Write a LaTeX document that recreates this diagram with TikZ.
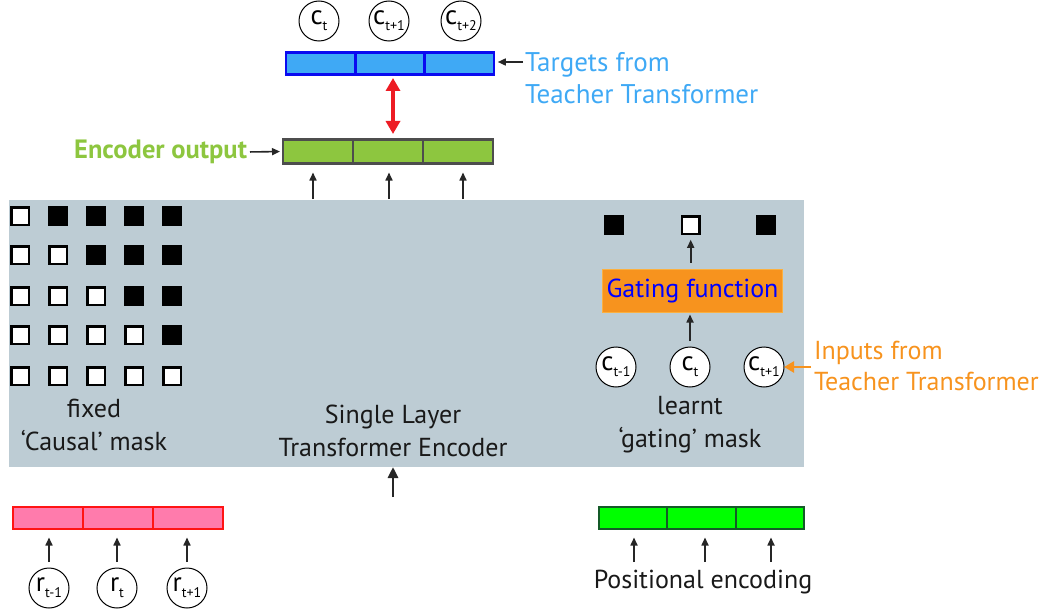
\documentclass[tikz,border=0pt]{standalone}
\usepackage{fontspec}
\setmainfont{PT Sans}
\usetikzlibrary{arrows.meta}
\definecolor{gbg}{RGB}{189,204,212}
\definecolor{tblue}{RGB}{63,169,245}
\definecolor{tborder}{RGB}{10,10,240}
\definecolor{egreen}{RGB}{141,198,63}
\definecolor{egray}{RGB}{77,77,77}
\definecolor{rpink}{RGB}{255,123,172}
\definecolor{rred}{RGB}{255,20,20}
\definecolor{pgreen}{RGB}{0,255,0}
\definecolor{pborder}{RGB}{20,90,40}
\definecolor{gorange}{RGB}{247,147,30}
\definecolor{gborder}{RGB}{251,176,64}
\definecolor{dred}{RGB}{237,28,36}
\begin{document}
\begin{tikzpicture}[x=1pt,y=-1pt,
  every node/.style={inner sep=0pt, outer sep=0pt},
  cellT/.style={draw=tborder, fill=tblue, line width=2.5pt, minimum width=69pt, minimum height=22pt},
  cellE/.style={draw=egray, fill=egreen, line width=2.5pt, minimum width=70pt, minimum height=24pt},
  cellR/.style={draw=rred, fill=rpink, line width=2pt, minimum width=70pt, minimum height=22pt},
  cellP/.style={draw=pborder, fill=pgreen, line width=2pt, minimum width=68.3pt, minimum height=22pt},
  tok/.style={circle, draw=black, fill=white, line width=1pt, minimum size=40pt, font=\fontsize{27}{27}\selectfont},
  sqW/.style={draw=black, fill=white, line width=2.5pt, minimum size=17.5pt},
  sqB/.style={draw=black, fill=black, line width=2.5pt, minimum size=17.5pt},
  arr/.style={-{Triangle[width=7pt,length=8pt]}, line width=1.6pt, draw=black!85},
  lbl/.style={font=\fontsize{26}{33}\selectfont, text=black!90, align=center},
]
\useasboundingbox (0,0) rectangle (1044,615);
\newcommand{\tk}[1]{c\raisebox{-6pt}{\fontsize{14}{14}\selectfont #1}}
\newcommand{\rk}[1]{r\raisebox{-6pt}{\fontsize{14}{14}\selectfont #1}}

% encoder box
\node[fill=gbg, minimum width=795pt, minimum height=267pt] (enc) at (406.5,333.5) {};

% target bar
\node[cellT] (t1) at (320.7,63.5) {};
\node[cellT] (t2) at (390,63.5) {};
\node[cellT] (t3) at (459.3,63.5) {};
\node[tok] (ct1) at (319,21) {\tk{t}};
\node[tok] (ct2) at (389,21) {\tk{t+1}};
\node[tok] (ct3) at (461,21) {\tk{t+2}};

% encoder output bar
\node[cellE] (e1) at (318,151.5) {};
\node[cellE] (e2) at (388,151.5) {};
\node[cellE] (e3) at (458,151.5) {};

\draw[{Triangle[width=14pt,length=13pt]}-{Triangle[width=14pt,length=13pt]}, line width=3.5pt, draw=dred] (393,78) -- (393,134);

% arrows from encoder to output
\coordinate (a1) at (313,199);
\coordinate (a2) at (389,199);
\coordinate (a3) at (463,199);
\draw[arr, shorten >=9pt] (a1) -- (a1 |- e1.south);
\draw[arr, shorten >=9pt] (a2) -- (a2 |- e2.south);
\draw[arr, shorten >=9pt] (a3) -- (a3 |- e3.south);

% labels top
\node[anchor=west, font=\fontsize{27}{32}\selectfont, text=tblue, align=left] (tgt) at (525,78) {Targets from\\Teacher Transformer};
\coordinate (tgtA) at (523,62);
\draw[arr, shorten >=4pt] (tgtA) -- (t3.east |- tgtA);
\node[anchor=east, font=\bfseries\fontsize{26.5}{30}\selectfont, text=egreen] (eo) at (247,152) {Encoder output};
\draw[arr, shorten <=3pt, shorten >=3pt] (eo.east) -- (e1.west);

% causal mask
\foreach \r/\y in {1/216,2/255,3/296,4/335,5/376}{
  \foreach \c/\x in {1/20,2/58,3/96,4/134,5/172}{
    \ifnum\c>\r
      \node[sqB] (m\r\c) at (\x,\y) {};
    \else
      \node[sqW] (m\r\c) at (\x,\y) {};
    \fi
  }
}
\node[lbl] (fixed) at (94,425) {fixed\\‘Causal’ mask};

\node[lbl] (sl) at (393,431) {Single Layer\\Transformer Encoder};

% gating
\node[sqB] (g1) at (613.5,225) {};
\node[sqW] (g2) at (690.7,225) {};
\node[sqB] (g3) at (765.5,225) {};
\node[draw=gborder, fill=gorange, line width=1.5pt, minimum width=180pt, minimum height=43pt, font=\fontsize{26}{30}\selectfont, text=blue] (gate) at (692.5,291) {Gating function};
\node[tok] (c1) at (616,367) {\tk{t-1}};
\node[tok] (c2) at (690,367) {\tk{t}};
\node[tok] (c3) at (764,367) {\tk{t+1}};
\draw[arr, shorten <=7pt, shorten >=6pt] (gate.north -| g2) -- (g2.south);
\draw[arr, shorten <=6pt, shorten >=2pt] (c2.north) -- (c2.north |- gate.south);
\node[lbl] (learnt) at (690,425) {learnt\\‘gating’ mask};
\node[anchor=west, font=\fontsize{26}{31}\selectfont, text=gorange, align=left] (inp) at (814,365.5) {Inputs from\\Teacher Transformer};
\draw[-{Triangle[width=11pt,length=10pt]}, line width=2.5pt, draw=gorange] (811,367) -- (c3.east);

% input arrow
\coordinate (inA) at (393,497);
\draw[-{Triangle[width=10pt,length=11pt]}, line width=2.8pt, draw=black!85] (inA) -- (inA |- enc.south);

% r bar
\node[cellR] (p1) at (48,517.5) {};
\node[cellR] (p2) at (118,517.5) {};
\node[cellR] (p3) at (188,517.5) {};
\node[tok] (r1) at (49,588) {\rk{t-1}};
\node[tok] (r2) at (117,588) {\rk{t}};
\node[tok] (r3) at (187,588) {\rk{t+1}};
\draw[arr, shorten <=6pt, shorten >=9pt] (r1.north) -- (r1.north |- p1.south);
\draw[arr, shorten <=6pt, shorten >=9pt] (r2.north) -- (r2.north |- p2.south);
\draw[arr, shorten <=6pt, shorten >=9pt] (r3.north) -- (r3.north |- p3.south);

% positional bar
\node[cellP] (q1) at (633.2,517.5) {};
\node[cellP] (q2) at (701.5,517.5) {};
\node[cellP] (q3) at (769.8,517.5) {};
\node[lbl] (pe) at (703,582) {Positional encoding};
\coordinate (b1) at (634,562);
\coordinate (b2) at (705,562);
\coordinate (b3) at (771,562);
\draw[arr, shorten >=9pt] (b1) -- (b1 |- q1.south);
\draw[arr, shorten >=9pt] (b2) -- (b2 |- q2.south);
\draw[arr, shorten >=9pt] (b3) -- (b3 |- q3.south);
\end{tikzpicture}
\end{document}
